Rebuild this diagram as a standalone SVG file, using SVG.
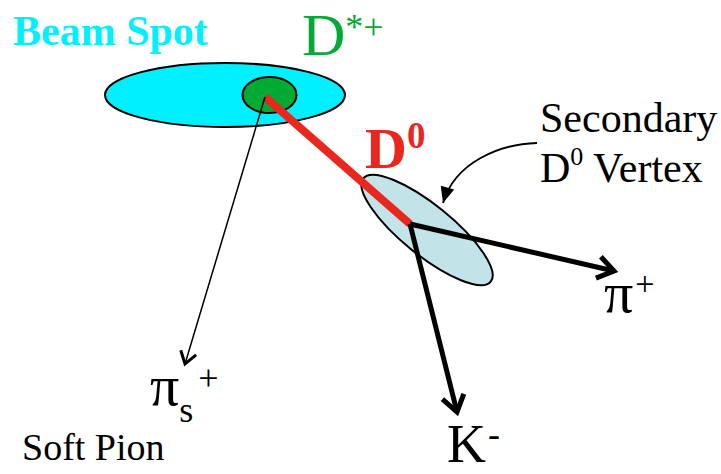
<svg xmlns="http://www.w3.org/2000/svg" width="721" height="474" viewBox="0 0 721 474">
<defs>
<style>
text{font-family:'Liberation Serif','Times New Roman',serif}
.trk{fill:none;stroke:#000;stroke-linecap:butt}
</style>
<marker id="vThick" viewBox="0 0 30 30" refX="24" refY="15" markerWidth="30" markerHeight="30" markerUnits="userSpaceOnUse" orient="auto">
<path d="M8,4 L24,15 L8,26" fill="none" stroke="#000" stroke-width="5" stroke-linejoin="miter"/>
</marker>
<marker id="vThin" viewBox="0 0 24 24" refX="19" refY="12" markerWidth="24" markerHeight="24" markerUnits="userSpaceOnUse" orient="auto">
<path d="M7,4 L19,12 L7,20" fill="none" stroke="#000" stroke-width="3"/>
</marker>
<marker id="tri" viewBox="0 0 20 20" refX="18" refY="10" markerWidth="20" markerHeight="20" markerUnits="userSpaceOnUse" orient="auto">
<path d="M2,3 L18,10 L2,17 Z" fill="#000"/>
</marker>
</defs>
<rect width="721" height="474" fill="#fff"/>
<g id="beamspot">
<ellipse cx="225" cy="95" rx="120" ry="32" fill="#00f0ff" stroke="#000" stroke-width="2"/>
<text font-family="Liberation Serif, serif" font-weight="bold" x="13" y="45" font-size="42" fill="#00f0ff">Beam Spot</text>
</g>
<g id="dstar">
<ellipse cx="269.5" cy="95" rx="27" ry="18" fill="#00aa33" stroke="#000" stroke-width="2"/>
<text font-family="Liberation Serif, serif" x="302" y="55" font-size="60" fill="#00aa33">D<tspan font-size="36" dy="-16">*+</tspan></text>
</g>
<g id="d0vertex">
<ellipse cx="427" cy="230" rx="82" ry="25" transform="rotate(39 427 230)" fill="#c2e4e8" stroke="#000" stroke-width="2"/>
</g>
<g id="connectors">
<line x1="265" y1="97" x2="410" y2="224" stroke="#e8281e" stroke-width="8"/>
<line class="trk" x1="265" y1="97" x2="185" y2="364" stroke-width="1.5" marker-end="url(#vThin)"/>
<line class="trk" x1="410" y1="224" x2="614" y2="271" stroke-width="5" marker-end="url(#vThick)"/>
<line class="trk" x1="410" y1="224" x2="457" y2="412" stroke-width="5" marker-end="url(#vThick)"/>
<path class="trk" d="M537,143 C500,144 455,162 443,203" stroke-width="1.8" marker-end="url(#tri)"/>
</g>
<g id="d0label">
<text font-family="Liberation Serif, serif" font-weight="bold" x="365" y="168" font-size="58" fill="#e8281e">D<tspan font-size="37" dy="-20">0</tspan></text>
</g>
<g id="secondary">
<text font-family="Liberation Serif, serif" x="540" y="132" font-size="42" fill="#000">Secondary</text>
<text font-family="Liberation Serif, serif" x="540" y="182" font-size="42" fill="#000">D<tspan font-size="26" dy="-17">0</tspan><tspan dy="17"> Vertex</tspan></text>
</g>
<g id="piplus">
<text font-family="Liberation Serif, serif" x="604" y="312" font-size="58" fill="#000">π<tspan font-size="34" dx="2" dy="-17">+</tspan></text>
</g>
<g id="kminus">
<text font-family="Liberation Serif, serif" x="447" y="462" font-size="54" fill="#000">K<tspan font-size="36" dx="2" dy="-16">-</tspan></text>
</g>
<g id="softpion">
<text font-family="Liberation Serif, serif" x="150" y="405" font-size="58" fill="#000">π<tspan font-size="36" dy="17">s</tspan><tspan font-size="36" dx="5" dy="-32">+</tspan></text>
<text font-family="Liberation Serif, serif" x="22" y="460" font-size="38" fill="#000">Soft Pion</text>
</g>
</svg>
